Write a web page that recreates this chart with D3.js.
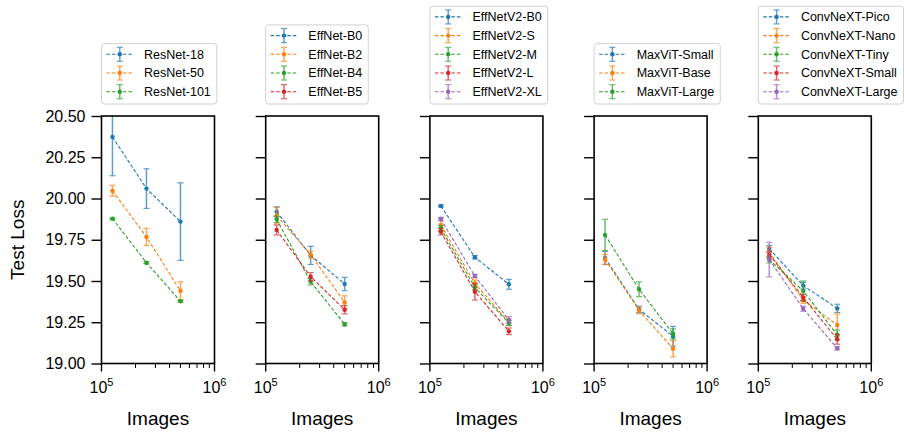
<!DOCTYPE html>
<html>
<head>
<meta charset="utf-8">
<script src="https://cdn.jsdelivr.net/npm/d3@7"></script>
<style>
	body { margin: 0; background: #fff; }
	text { font-family: "Liberation Sans", Arial, sans-serif; fill: #000; }
</style>
</head>
<body>
<div id="main"></div>
<script>
// image counts (x axis)
var images = [125000, 250000, 500000]
var colors = ["#1f77b4", "#ff7f0e", "#2ca02c", "#d62728", "#9467bd"]

// panel 1
var resnetNames = ["ResNet-18", "ResNet-50", "ResNet-101"]
var resnetMean = [[20.373, 20.06, 19.86], [20.047, 19.767, 19.44], [19.878, 19.611, 19.377]]
var resnetErr = [[0.235, 0.12, 0.235], [0.033, 0.052, 0.055], [0.005, 0.006, 0.006]]
// panel 2
var effNames = ["EffNet-B0", "EffNet-B2", "EffNet-B4", "EffNet-B5"]
var effMean = [[19.92, 19.655, 19.482], [19.896, 19.66, 19.37], [19.874, 19.496, 19.238], [19.809, 19.526, 19.326]]
var effErr = [[0.03, 0.055, 0.04], [0.05, 0.02, 0.04], [0.02, 0.02, 0.01], [0.03, 0.025, 0.025]]
// panel 3
var effv2Names = ["EffNetV2-B0", "EffNetV2-S", "EffNetV2-M", "EffNetV2-L", "EffNetV2-XL"]
var effv2Mean = [[19.955, 19.644, 19.48], [19.84, 19.486, 19.25], [19.819, 19.462, 19.245], [19.799, 19.435, 19.195], [19.876, 19.53, 19.264]]
var effv2Err = [[0.006, 0.01, 0.03], [0.04, 0.02, 0.02], [0.015, 0.015, 0.015], [0.02, 0.05, 0.02], [0.01, 0.01, 0.02]]
// panel 4
var maxvitNames = ["MaxViT-Small", "MaxViT-Base", "MaxViT-Large"]
var maxvitMean = [[19.64, 19.328, 19.165], [19.631, 19.322, 19.09], [19.779, 19.45, 19.18]]
var maxvitErr = [[0.04, 0.02, 0.06], [0.03, 0.02, 0.05], [0.095, 0.045, 0.03]]
// panel 5
var convNames = ["ConvNeXT-Pico", "ConvNeXT-Nano", "ConvNeXT-Tiny", "ConvNeXT-Small", "ConvNeXT-Large"]
var convMean = [[19.695, 19.472, 19.334], [19.675, 19.385, 19.233], [19.63, 19.44, 19.173], [19.66, 19.40, 19.147], [19.63, 19.332, 19.092]]
var convErr = [[0.02, 0.02, 0.025], [0.03, 0.02, 0.067], [0.02, 0.06, 0.03], [0.02, 0.02, 0.03], [0.105, 0.015, 0.01]]

var yTicks = [19.00, 19.25, 19.50, 19.75, 20.00, 20.25, 20.50]

var panels = [
	{ names: resnetNames, mean: resnetMean, err: resnetErr },
	{ names: effNames, mean: effMean, err: effErr },
	{ names: effv2Names, mean: effv2Mean, err: effv2Err },
	{ names: maxvitNames, mean: maxvitMean, err: maxvitErr },
	{ names: convNames, mean: convMean, err: convErr }
]

var W = 904, H = 432
var top0 = 116, bottom0 = 363.5
var left0 = 101.5, pw = 113, gap = 164.2

var svg = d3.select("#main").append("svg")
	.attr("width", W)
	.attr("height", H)

var y = d3.scaleLinear().domain([19.0, 20.5]).range([bottom0, top0])

panels.forEach(function (p, k) {
	var x0 = left0 + k * gap
	var x = d3.scaleLog().domain([1e5, 1e6]).range([x0, x0 + pw])
	var g = svg.append("g")

	g.append("clipPath").attr("id", "clip" + k)
		.append("rect")
		.attr("x", x0).attr("y", top0)
		.attr("width", pw).attr("height", bottom0 - top0)

	var plot = g.append("g").attr("clip-path", "url(#clip" + k + ")")

	// series: dashed line, error bars, dots
	p.names.forEach(function (n, i) {
		var c = colors[i]
		var pts = images.map(function (v, j) { return [v, p.mean[i][j], p.err[i][j]] })
		var s = plot.append("g")
		s.append("path")
			.attr("d", d3.line().x(function (d) { return x(d[0]) }).y(function (d) { return y(d[1]) })(pts))
			.attr("fill", "none")
			.attr("stroke", c)
			.attr("stroke-width", 1.1)
			.attr("stroke-dasharray", "3.5,2")
		var eb = s.selectAll(".eb").data(pts).enter().append("g").attr("opacity", 0.7)
		eb.append("line")
			.attr("x1", function (d) { return x(d[0]) }).attr("x2", function (d) { return x(d[0]) })
			.attr("y1", function (d) { return y(d[1] - d[2]) }).attr("y2", function (d) { return y(d[1] + d[2]) })
			.attr("stroke", c).attr("stroke-width", 1.5)
		eb.append("line")
			.attr("x1", function (d) { return x(d[0]) - 3 }).attr("x2", function (d) { return x(d[0]) + 3 })
			.attr("y1", function (d) { return y(d[1] - d[2]) }).attr("y2", function (d) { return y(d[1] - d[2]) })
			.attr("stroke", c).attr("stroke-width", 1.2)
		eb.append("line")
			.attr("x1", function (d) { return x(d[0]) - 3 }).attr("x2", function (d) { return x(d[0]) + 3 })
			.attr("y1", function (d) { return y(d[1] + d[2]) }).attr("y2", function (d) { return y(d[1] + d[2]) })
			.attr("stroke", c).attr("stroke-width", 1.2)
		s.selectAll("circle").data(pts).enter().append("circle")
			.attr("cx", function (d) { return x(d[0]) })
			.attr("cy", function (d) { return y(d[1]) })
			.attr("r", 2.2)
			.attr("fill", c)
	})

	// y axis
	var ya = d3.axisLeft(y).tickValues(yTicks).tickSize(10).tickPadding(6)
		.tickFormat(k == 0 ? d3.format(".2f") : function () { return "" })
	var yg = g.append("g").attr("transform", "translate(" + x0 + ",0)").call(ya)
	yg.select(".domain").remove()
	yg.selectAll("line").attr("stroke-width", 1.4)
	yg.selectAll("text").style("font-size", "16px")

	// x axis, major + minor
	var xg = g.append("g").attr("transform", "translate(0," + bottom0 + ")")
	var minor = d3.range(2, 10).map(function (v) { return v * 1e5 })
	xg.selectAll(".mn").data(minor).enter().append("line")
		.attr("x1", function (d) { return x(d) }).attr("x2", function (d) { return x(d) })
		.attr("y1", 0).attr("y2", 4.5)
		.attr("stroke", "#000").attr("stroke-width", 1)
	var major = [5, 6]
	xg.selectAll(".mj").data(major).enter().append("line")
		.attr("x1", function (d) { return x(Math.pow(10, d)) }).attr("x2", function (d) { return x(Math.pow(10, d)) })
		.attr("y1", 0).attr("y2", 8)
		.attr("stroke", "#000").attr("stroke-width", 1.4)
	var lab = xg.selectAll(".lb").data(major).enter().append("text")
		.attr("x", function (d) { return x(Math.pow(10, d)) })
		.attr("y", 29)
		.attr("text-anchor", "middle")
		.style("font-size", "16px")
	lab.append("tspan").text("10")
	lab.append("tspan").attr("dy", -7).style("font-size", "11px").text(function (d) { return d })

	g.append("text")
		.attr("x", x0 + pw / 2)
		.attr("y", 425)
		.attr("text-anchor", "middle")
		.style("font-size", "19px")
		.text("Images")

	// frame
	g.append("rect")
		.attr("x", x0).attr("y", top0)
		.attr("width", pw).attr("height", bottom0 - top0)
		.attr("fill", "none").attr("stroke", "#000").attr("stroke-width", 1.6)

	// legend above the axes, left aligned
	var n = p.names.length
	var lh = 23 + (n - 1) * 18.7
	var ly = top0 - 12 - lh
	var lg = g.append("g").attr("transform", "translate(" + x0 + "," + ly + ")")
	var box = lg.append("rect")
		.attr("rx", 3).attr("ry", 3)
		.attr("height", lh)
		.attr("fill", "#fff").attr("fill-opacity", 0.8)
		.attr("stroke", "#d0d0d0").attr("stroke-width", 1)
	var maxw = 0
	p.names.forEach(function (nm, i) {
		var c = colors[i]
		var cy = 10.7 + i * 18.7
		lg.append("line").attr("x1", 5).attr("x2", 31.6).attr("y1", cy).attr("y2", cy)
			.attr("stroke", c).attr("stroke-width", 1.1).attr("stroke-dasharray", "3.5,2")
		var e = lg.append("g").attr("opacity", 0.7)
		e.append("line").attr("x1", 18.3).attr("x2", 18.3).attr("y1", cy - 7).attr("y2", cy + 7)
			.attr("stroke", c).attr("stroke-width", 1.5)
		e.append("line").attr("x1", 15.3).attr("x2", 21.3).attr("y1", cy - 7).attr("y2", cy - 7)
			.attr("stroke", c).attr("stroke-width", 1.2)
		e.append("line").attr("x1", 15.3).attr("x2", 21.3).attr("y1", cy + 7).attr("y2", cy + 7)
			.attr("stroke", c).attr("stroke-width", 1.2)
		lg.append("circle").attr("cx", 18.3).attr("cy", cy).attr("r", 2.2).attr("fill", c)
		var t = lg.append("text")
			.attr("x", 42.6).attr("y", cy + 4.4)
			.style("font-size", "12.5px")
			.text(nm)
		maxw = Math.max(maxw, t.node().getComputedTextLength())
	})
	box.attr("width", 42.6 + maxw + 6)
})

svg.append("text")
	.attr("transform", "translate(24," + ((top0 + bottom0) / 2) + ") rotate(-90)")
	.attr("text-anchor", "middle")
	.style("font-size", "19px")
	.text("Test Loss")
</script>
</body>
</html>
